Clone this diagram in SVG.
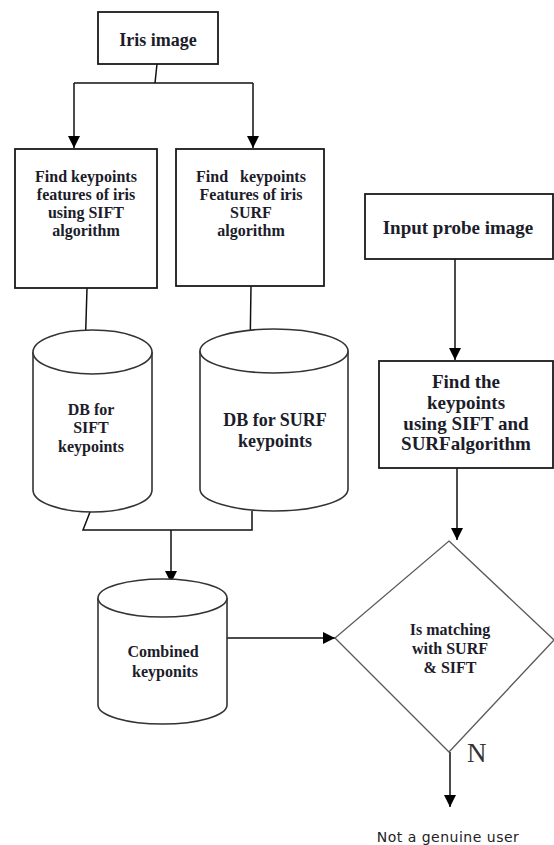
<svg xmlns="http://www.w3.org/2000/svg" width="554" height="845" viewBox="0 0 554 845">
<defs>
<marker id="ah" markerUnits="userSpaceOnUse" markerWidth="12" markerHeight="14" viewBox="0 0 12 14" refX="12" refY="6" orient="auto">
<path d="M0,0 L12,6 L0,12 Z" fill="#000"/>
</marker>
</defs>
<style>
.box{fill:#fff;stroke:#1a1a1a;stroke-width:1.8}
.cyl{fill:#fff;stroke:#333;stroke-width:1.6}
.dia{fill:#fff;stroke:#5a5a5a;stroke-width:1.3}
.ln{fill:none;stroke:#111;stroke-width:1.5}
.arr{fill:none;stroke:#111;stroke-width:1.5;marker-end:url(#ah)}
.t{font-weight:bold;fill:#1c1c2a;text-anchor:middle}
</style>
<rect width="554" height="845" fill="#fff"/>

<g id="connectors">
<polyline class="ln" points="157,64 155,83"/>
<polyline class="ln" points="74,83 253,83"/>
<line class="arr" x1="74" y1="83" x2="74" y2="148"/>
<line class="arr" x1="253" y1="83" x2="253" y2="148"/>
<line class="arr" x1="87" y1="288" x2="85" y2="355"/>
<line class="arr" x1="251" y1="286" x2="250" y2="353"/>
<polyline class="ln" points="90,512 83,530 252,530 252,511"/>
<line class="arr" x1="171" y1="530" x2="171" y2="583"/>
<line class="arr" x1="227" y1="638" x2="335" y2="638"/>
<line class="arr" x1="455" y1="259" x2="455" y2="360"/>
<line class="arr" x1="457" y1="468" x2="457" y2="540"/>
<line class="arr" x1="450" y1="752" x2="450" y2="807"/>
</g>

<g font-family="Liberation Serif, Times New Roman, serif">
<g id="iris">
<rect class="box" x="98" y="12" width="120" height="52"/>
<text class="t" x="158" y="46" font-size="18">Iris image</text>
</g>

<g id="sift-box">
<rect class="box" x="15" y="149" width="142" height="139"/>
<text class="t" font-size="16"><tspan x="86" y="182">Find keypoints</tspan><tspan x="86" y="200">features of iris</tspan><tspan x="86" y="218">using SIFT</tspan><tspan x="86" y="236">algorithm</tspan></text>
</g>

<g id="surf-box">
<rect class="box" x="176" y="149" width="148" height="137"/>
<text class="t" font-size="16" xml:space="preserve"><tspan x="251" y="182">Find   keypoints</tspan><tspan x="251" y="200">Features of iris</tspan><tspan x="251" y="218">SURF</tspan><tspan x="251" y="236">algorithm</tspan></text>
</g>

<g id="db-sift">
<path class="cyl" d="M33,352 L33,490 A59.5,22 0 0 0 152,490 L152,352"/>
<ellipse class="cyl" cx="92.5" cy="352" rx="59.5" ry="22"/>
<text class="t" font-size="16"><tspan x="91" y="415">DB for</tspan><tspan x="91" y="433">SIFT</tspan><tspan x="91" y="452">keypoints</tspan></text>
</g>

<g id="db-surf">
<path class="cyl" d="M200,351 L200,489 A74,22 0 0 0 348,489 L348,351"/>
<ellipse class="cyl" cx="274" cy="351" rx="74" ry="22"/>
<text class="t" font-size="18"><tspan x="275" y="426">DB for SURF</tspan><tspan x="275" y="447">keypoints</tspan></text>
</g>

<g id="combined">
<path class="cyl" d="M98,598 L98,705 A64.5,19 0 0 0 227,705 L227,598"/>
<ellipse class="cyl" cx="162.5" cy="598" rx="64.5" ry="19"/>
<text class="t" font-size="16"><tspan x="163" y="657">Combined</tspan><tspan x="165" y="677">keyponits</tspan></text>
</g>

<g id="probe">
<rect class="box" x="365" y="194" width="188" height="65"/>
<text class="t" x="458" y="234" font-size="19">Input probe image</text>
</g>

<g id="find-both">
<rect class="box" x="379" y="361" width="174" height="107"/>
<text class="t" font-size="19"><tspan x="466" y="388">Find the</tspan><tspan x="466" y="409">keypoints</tspan><tspan x="466" y="430">using SIFT and</tspan><tspan x="466" y="450">SURFalgorithm</tspan></text>
</g>

<g id="decision">
<polygon class="dia" points="449,541 554,640 449,752 335,638"/>
<text class="t" font-size="16"><tspan x="450" y="635">Is matching</tspan><tspan x="450" y="654">with SURF</tspan><tspan x="450" y="673">&amp; SIFT</tspan></text>
<text x="467" y="762" font-size="27" fill="#333">N</text>
</g>
</g>

<g id="result">
<text x="448" y="842" font-family="DejaVu Sans, sans-serif" font-size="14" letter-spacing="0.5" fill="#222" text-anchor="middle">Not a genuine user</text>
</g>
</svg>
